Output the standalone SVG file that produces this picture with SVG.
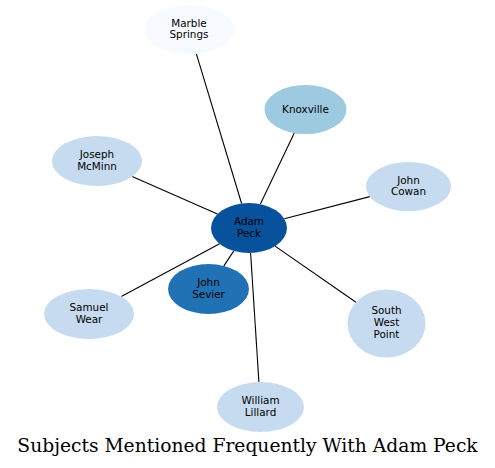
<svg xmlns="http://www.w3.org/2000/svg" width="495" height="468" viewBox="0 0 495 468">
<style>
.n text{font-family:"DejaVu Sans",Verdana,sans-serif;font-size:10.4px;fill:#000;text-anchor:middle}
.e line{stroke:#000;stroke-width:1.1}
.title{font-family:"DejaVu Serif","Liberation Serif",serif;font-size:18.7px;fill:#000;text-anchor:middle}
</style>
<rect width="495" height="468" fill="#fff"/>
<g id="edges" class="e">
<line x1="241.6" y1="203.5" x2="196.3" y2="53.7"/>
<line x1="260.4" y1="204.1" x2="294.3" y2="133.1"/>
<line x1="217.4" y1="214.1" x2="132.2" y2="176.5"/>
<line x1="284.3" y1="218.8" x2="369.8" y2="196.6"/>
<line x1="233.8" y1="250.9" x2="223.9" y2="265.9"/>
<line x1="219.6" y1="243.8" x2="121.3" y2="296.6"/>
<line x1="275.1" y1="246.1" x2="356" y2="302.3"/>
<line x1="250.6" y1="253" x2="258.9" y2="382"/>
</g>
<g id="marble_springs" class="n">
<ellipse cx="189" cy="29.5" rx="45" ry="24.5" fill="#f7fbff"/>
<text x="189" y="26.5">Marble</text>
<text x="189" y="38.2">Springs</text>
</g>
<g id="knoxville" class="n">
<ellipse cx="305.5" cy="109.5" rx="41" ry="24.5" fill="#9ecae1"/>
<text x="305.5" y="112.5">Knoxville</text>
</g>
<g id="joseph_mcminn" class="n">
<ellipse cx="97" cy="161" rx="45" ry="25" fill="#c6dbef"/>
<text x="97" y="158">Joseph</text>
<text x="97" y="169.7">McMinn</text>
</g>
<g id="john_cowan" class="n">
<ellipse cx="408.5" cy="186.5" rx="42.5" ry="24.5" fill="#c6dbef"/>
<text x="408.5" y="183.5">John</text>
<text x="408.5" y="195.2">Cowan</text>
</g>
<g id="adam_peck" class="n">
<ellipse cx="249" cy="228" rx="38" ry="25" fill="#08519c"/>
<text x="249" y="225">Adam</text>
<text x="249" y="236.7">Peck</text>
</g>
<g id="john_sevier" class="n">
<ellipse cx="208.5" cy="289" rx="40.5" ry="25" fill="#2171b5"/>
<text x="208.5" y="286">John</text>
<text x="208.5" y="297.7">Sevier</text>
</g>
<g id="samuel_wear" class="n">
<ellipse cx="89" cy="314" rx="45" ry="25" fill="#c6dbef"/>
<text x="89" y="311">Samuel</text>
<text x="89" y="322.7">Wear</text>
</g>
<g id="south_west_point" class="n">
<ellipse cx="386.5" cy="323.5" rx="39" ry="34" fill="#c6dbef"/>
<text x="386.5" y="314.3">South</text>
<text x="386.5" y="326">West</text>
<text x="386.5" y="337.7">Point</text>
</g>
<g id="william_lillard" class="n">
<ellipse cx="260.5" cy="407" rx="43.5" ry="25" fill="#c6dbef"/>
<text x="260.5" y="404">William</text>
<text x="260.5" y="415.7">Lillard</text>
</g>
<text class="title" x="247.5" y="451.5">Subjects Mentioned Frequently With Adam Peck</text>
</svg>
